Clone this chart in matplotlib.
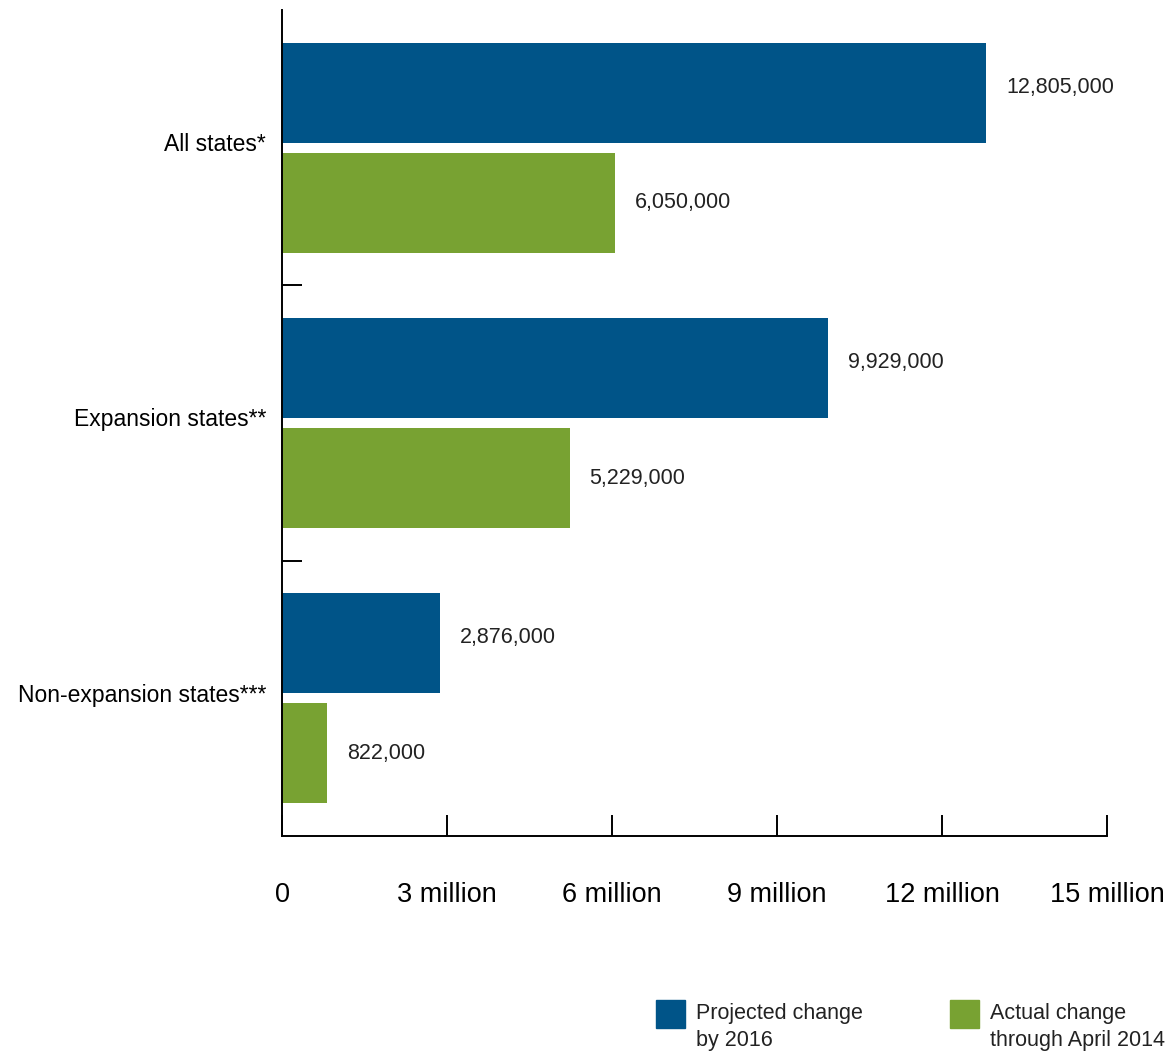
import matplotlib
matplotlib.use('Agg')
import matplotlib.pyplot as plt
from matplotlib.patches import Rectangle
from matplotlib.ticker import FixedLocator

plt.rcParams['font.family'] = ['Liberation Sans', 'DejaVu Sans']

# Medicaid/CHIP enrollment change
groups = ['All states*', 'Expansion states**', 'Non-expansion states***']
projected = [12805000, 9929000, 2876000]
actual = [6050000, 5229000, 822000]
xticks = [0, 3e6, 6e6, 9e6, 12e6, 15e6]
xtick_labels = ['0', '3 million', '6 million', '9 million', '12 million', '15 million']
legend_labels = ['Projected change\nby 2016', 'Actual change\nthrough April 2014']

blue = '#005488'
green = '#78A232'
txt = '#222222'

W, H = 1173, 1057
fig = plt.figure(figsize=(W / 100, H / 100), dpi=100)
ax = fig.add_axes([282 / W, 1 - 836 / H, (1107 - 282) / W, (836 - 10) / H])

centers = [i + 0.5 for i in range(len(groups))]
bh = 100 / 275
off = 55 / 275
ax.barh([c - off for c in centers], projected, height=bh, color=blue)
ax.barh([c + off for c in centers], actual, height=bh, color=green)

for c, p, a in zip(centers, projected, actual):
    ax.text(p + 20 / 55 * 1e6, c - off - 0.02, f'{p:,}', va='center', ha='left', fontsize=15.5, color=txt)
    ax.text(a + 20 / 55 * 1e6, c + off, f'{a:,}', va='center', ha='left', fontsize=15.5, color=txt)

ax.set_xlim(0, 15e6)
ax.set_ylim(3, 0)

ax.set_xticks(xticks)
ax.set_xticklabels(xtick_labels, fontsize=19.5)
ax.tick_params(axis='x', direction='in', length=15, width=1.4, pad=33, colors='black')

ax.set_yticks([c - 0.02 for c in centers])
ax.set_yticklabels(groups, fontsize=16.5)
ax.tick_params(axis='y', which='major', length=0, pad=11.5)
ax.yaxis.set_minor_locator(FixedLocator([1, 2]))
ax.tick_params(axis='y', which='minor', direction='in', length=14.4, width=1.4)

for s in ['top', 'right']:
    ax.spines[s].set_visible(False)
for s in ['left', 'bottom']:
    ax.spines[s].set_linewidth(1.4)

# legend drawn by hand at the bottom
for x0, col, lab in zip([656, 950], [blue, green], legend_labels):
    fig.patches.append(Rectangle((x0 / W, 1 - 1028 / H), 29 / W, 28 / H,
                                 transform=fig.transFigure, color=col))
    fig.text((x0 + 40) / W, 1 - 1003 / H, lab, ha='left', va='top', fontsize=15.5,
             linespacing=1.4, color=txt)

fig.savefig('out.png', dpi=100)
